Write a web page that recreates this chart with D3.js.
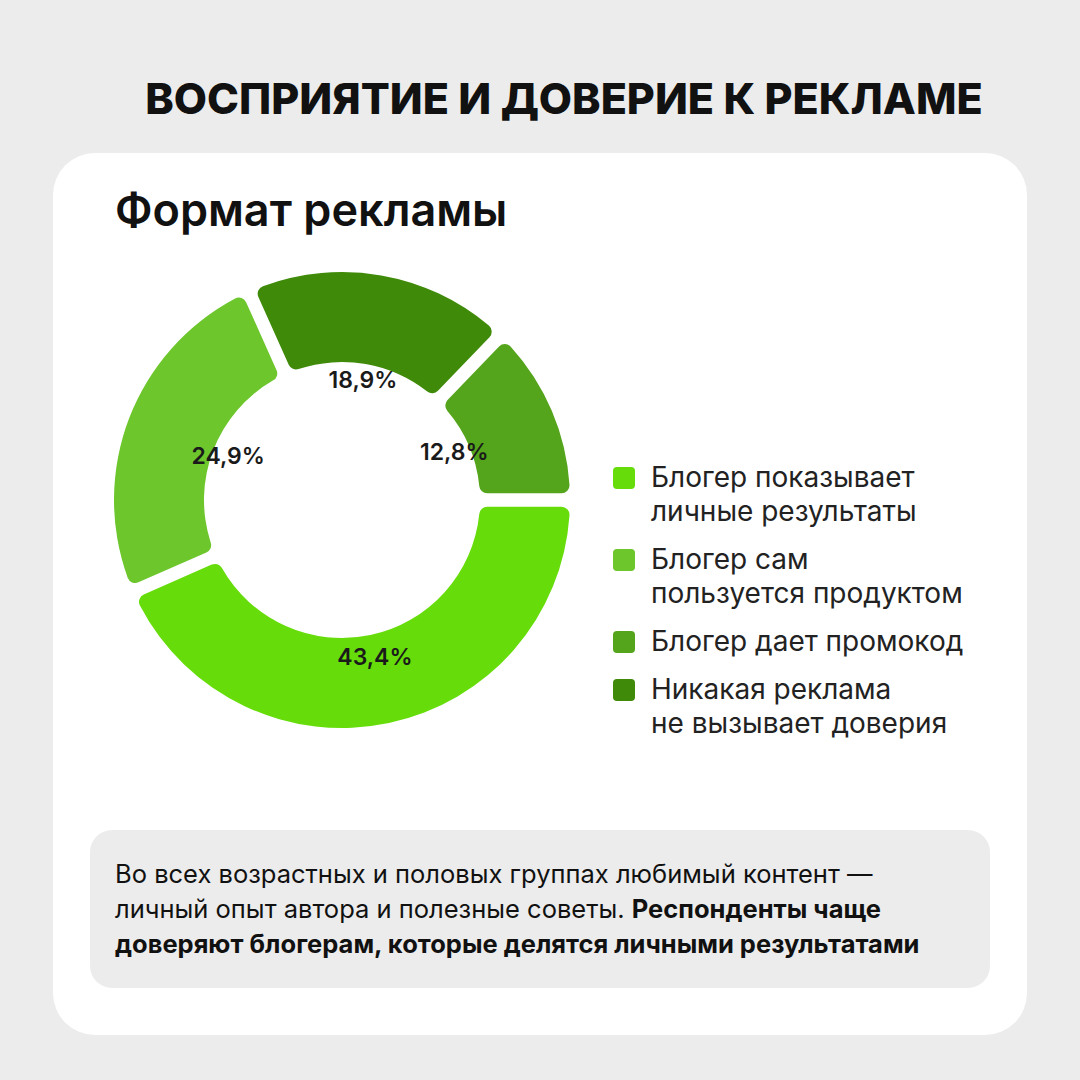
<!DOCTYPE html>
<html><head><meta charset="utf-8">
<script src="https://cdn.jsdelivr.net/npm/d3@7"></script>
<style>body{margin:0;background:#ececec}svg{display:block}text{font-family:Inter,"Noto Sans",sans-serif}</style>
</head><body>
<svg id="c" width="1080" height="1080"></svg>
<script>
const categories=["Блогер показывает личные результаты","Блогер сам пользуется продуктом","Никакая реклама не вызывает доверия","Блогер дает промокод"];
const values=[43.4,24.9,18.9,12.8];
const labels=["43,4%","24,9%","18,9%","12,8%"];
const colors=["#66dd0b","#6cc62c","#3f8a08","#55a51c"];
const legendItems=[["Блогер показывает","личные результаты"],["Блогер сам","пользуется продуктом"],["Блогер дает промокод"],["Никакая реклама","не вызывает доверия"]];
const legendColors=["#66dd0b","#6cc62c","#55a51c","#3f8a08"];
const noteLines=[[["Во всех возрастных и половых группах любимый контент —",400]],[["личный опыт автора и полезные советы. ",400],["Респонденты чаще",700]],[["доверяют блогерам, которые делятся личными результатами",700]]];

const svg=d3.select("#c");
svg.append("rect").attr("width",1080).attr("height",1080).attr("fill","#ececec");
svg.append("text").attr("x",564).attr("y",114).attr("text-anchor","middle").attr("font-size",43).attr("font-weight",800).attr("fill","#111").text("ВОСПРИЯТИЕ И ДОВЕРИЕ К РЕКЛАМЕ");
svg.append("rect").attr("x",53).attr("y",153).attr("width",974).attr("height",882).attr("rx",42).attr("fill","#fff");
svg.append("text").attr("x",115).attr("y",226).attr("font-size",45).attr("font-weight",600).attr("fill","#111").text("Формат рекламы");

const cx=342,cy=500;
const g=svg.append("g").attr("transform",`translate(${cx},${cy})`);
const pie=d3.pie().sort(null).startAngle(Math.PI/2).endAngle(Math.PI/2+2*Math.PI);
const arcs=pie(values);
const arc=d3.arc().innerRadius(138).outerRadius(228).cornerRadius(8).padAngle(0.05);
g.selectAll("path").data(arcs).join("path").attr("d",arc).attr("fill",(d,i)=>colors[i]);
const la=d3.arc().innerRadius(122).outerRadius(122);
const la0=d3.arc().innerRadius(160).outerRadius(160);
g.selectAll("text.l").data(arcs).join("text").attr("class","l")
 .attr("transform",(d,i)=>`translate(${(i===0?la0:la).centroid(d)})`).attr("text-anchor","middle").attr("dy","0.35em")
 .attr("font-size",23).attr("font-weight",600).attr("fill","#1a1a1a").text((d,i)=>labels[i]);

let y=478;
legendItems.forEach((lines,i)=>{
  svg.append("rect").attr("x",613).attr("y",y-11).attr("width",22).attr("height",22).attr("rx",4).attr("fill",legendColors[i]);
  lines.forEach((t,j)=>svg.append("text").attr("x",651).attr("y",y+9+j*34).attr("font-size",28).attr("fill","#222").text(t));
  y+=lines.length*34+14;
});

svg.append("rect").attr("x",90).attr("y",830).attr("width",900).attr("height",158).attr("rx",22).attr("fill","#ececec");
noteLines.forEach((parts,i)=>{
  const t=svg.append("text").attr("x",115).attr("y",883+i*35).attr("font-size",25.5).attr("fill","#111");
  parts.forEach(p=>t.append("tspan").attr("font-weight",p[1]).text(p[0]));
});
</script></body></html>
